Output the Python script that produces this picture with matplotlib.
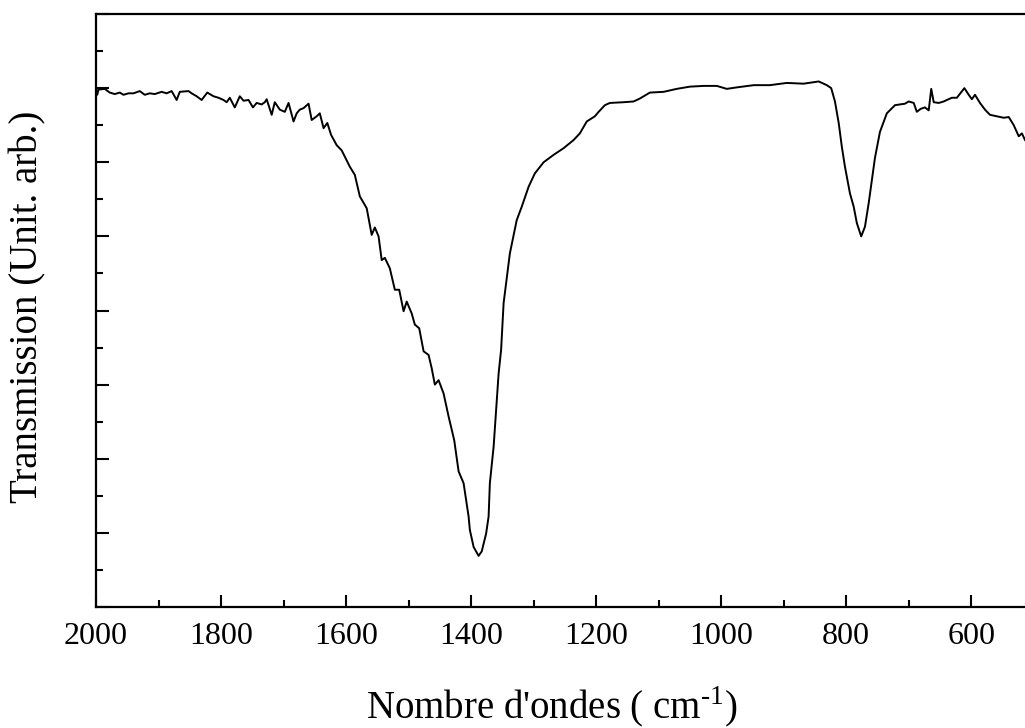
import matplotlib
matplotlib.use('Agg')
import matplotlib.pyplot as plt
from matplotlib.ticker import MultipleLocator, NullFormatter

# spectre IR (nombre d'onde en cm-1, transmission en unites arbitraires)
wavenumber = [2000, 1998, 1996, 1986, 1978, 1970, 1962, 1956, 1948, 1940,
              1930, 1922, 1914, 1906, 1895, 1887, 1879, 1871, 1866, 1852,
              1847, 1839, 1831, 1822, 1812, 1804, 1796, 1791, 1786, 1778,
              1770, 1764, 1756, 1749, 1743, 1735, 1730, 1727, 1719, 1714,
              1706, 1698, 1692, 1684, 1679, 1674, 1668, 1660, 1655, 1647,
              1642, 1636, 1630, 1624, 1615, 1607, 1594, 1586, 1578, 1567,
              1559, 1554, 1548, 1543, 1538, 1530, 1522, 1515, 1508, 1503,
              1495, 1490, 1483, 1476, 1468, 1463, 1458, 1452, 1444, 1436,
              1427, 1420, 1412, 1404, 1402, 1396, 1388, 1383, 1376, 1372,
              1370, 1364, 1360, 1356, 1352, 1348, 1338, 1327, 1319, 1308,
              1298, 1284, 1268, 1252, 1236, 1226, 1215, 1202, 1196, 1186,
              1178, 1156, 1140, 1130, 1114, 1092, 1071, 1050, 1028, 1007,
              991, 975, 948, 922, 895, 868, 844, 831, 824, 818,
              812, 807, 802, 794, 788, 783, 776, 770, 764, 759,
              754, 746, 735, 722, 706, 700, 692, 687, 681, 674,
              668, 664, 660, 652, 644, 639, 631, 623, 611, 604,
              599, 594, 586, 578, 570, 559, 548, 540, 532, 524,
              519, 514]
transmission = [7.00, 6.91, 6.98, 6.99, 6.94, 6.92, 6.94, 6.91, 6.93, 6.93,
                6.96, 6.91, 6.93, 6.92, 6.95, 6.93, 6.96, 6.84, 6.95, 6.96,
                6.93, 6.89, 6.84, 6.94, 6.89, 6.87, 6.84, 6.81, 6.87, 6.74,
                6.89, 6.83, 6.84, 6.74, 6.80, 6.78, 6.81, 6.85, 6.64, 6.81,
                6.71, 6.68, 6.80, 6.55, 6.66, 6.71, 6.73, 6.79, 6.57, 6.62,
                6.66, 6.46, 6.53, 6.37, 6.23, 6.16, 5.94, 5.83, 5.54, 5.38,
                5.02, 5.12, 5.00, 4.68, 4.71, 4.57, 4.28, 4.28, 3.99, 4.12,
                3.96, 3.81, 3.76, 3.45, 3.40, 3.22, 3.00, 3.06, 2.88, 2.57,
                2.25, 1.83, 1.67, 1.22, 1.04, 0.81, 0.69, 0.75, 0.99, 1.22,
                1.67, 2.16, 2.66, 3.15, 3.47, 4.10, 4.77, 5.22, 5.40, 5.67,
                5.85, 6.00, 6.10, 6.19, 6.30, 6.39, 6.55, 6.62, 6.68, 6.77,
                6.80, 6.81, 6.82, 6.86, 6.94, 6.95, 6.99, 7.02, 7.03, 7.03,
                6.99, 7.01, 7.04, 7.04, 7.07, 7.06, 7.09, 7.04, 7.00, 6.82,
                6.53, 6.21, 5.94, 5.58, 5.40, 5.18, 5.00, 5.13, 5.45, 5.76,
                6.06, 6.41, 6.66, 6.77, 6.79, 6.82, 6.80, 6.68, 6.72, 6.74,
                6.70, 6.99, 6.81, 6.80, 6.82, 6.84, 6.87, 6.87, 7.00, 6.91,
                6.85, 6.91, 6.80, 6.71, 6.64, 6.62, 6.60, 6.61, 6.50, 6.35,
                6.39, 6.30]

plt.rcParams['font.family'] = ['Liberation Serif', 'DejaVu Serif']
plt.rcParams['mathtext.fontset'] = 'custom'
plt.rcParams['mathtext.rm'] = 'Liberation Serif'

fig = plt.figure(figsize=(10.25, 7.28), dpi=100)
ax = fig.add_axes([96 / 1025, 121 / 728, 929 / 1025, 593 / 728])

ax.plot(wavenumber, transmission, color='black', lw=1.4)

ax.set_xlim(2000, 514)
ax.set_ylim(0, 8)

ax.xaxis.set_major_locator(MultipleLocator(200))
ax.xaxis.set_minor_locator(MultipleLocator(100))
ax.yaxis.set_major_locator(MultipleLocator(1))
ax.yaxis.set_minor_locator(MultipleLocator(0.5))
ax.yaxis.set_major_formatter(NullFormatter())

ax.tick_params(axis='both', which='both', direction='in', width=1.5,
               top=False, right=False)
ax.tick_params(axis='both', which='major', length=9)
ax.tick_params(axis='both', which='minor', length=5)
ax.tick_params(axis='x', which='major', labelsize=23, pad=11)

ax.spines['right'].set_visible(False)
for s in ['left', 'bottom', 'top']:
    ax.spines[s].set_linewidth(1.6)

fig.text(552 / 1025, 1 - 707 / 728, "Nombre d'ondes ( cm$^{\\mathregular{\u2010}\\mathregular{1}}$)",
         ha='center', va='center', fontsize=28)
fig.text(28 / 1025, 1 - 307 / 728, 'Transmission (Unit. arb.)',
         ha='center', va='center', rotation=90, fontsize=28)

fig.savefig('out.png', dpi=100)
